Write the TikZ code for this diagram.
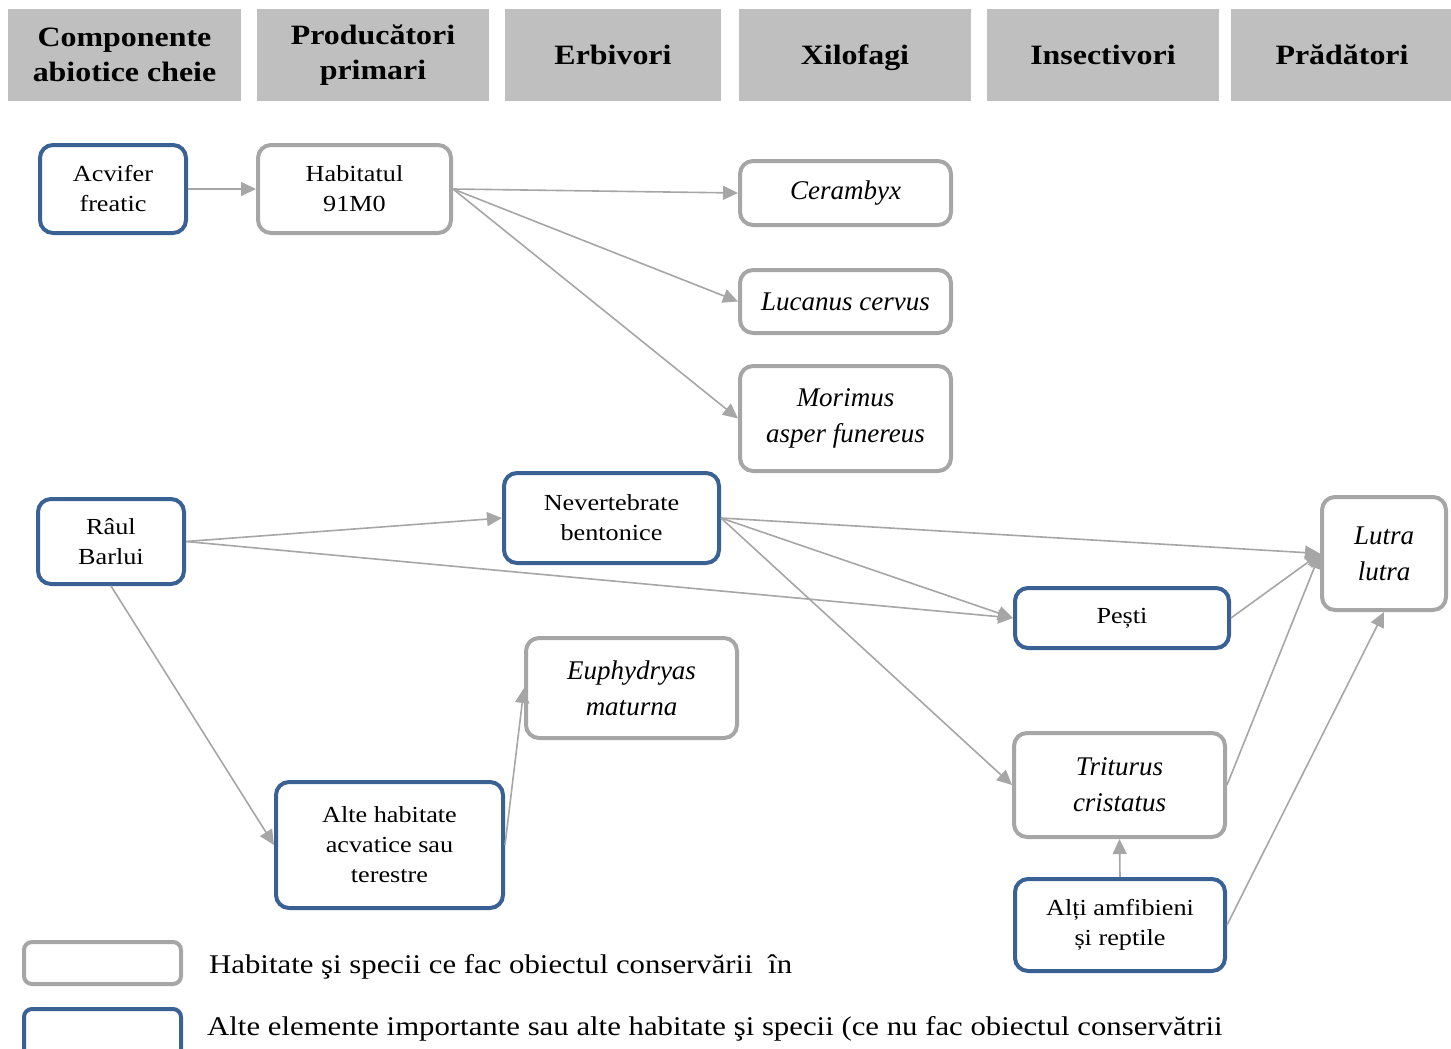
\documentclass[tikz,border=0pt]{standalone}
\usepackage{fontspec}
\setmainfont{Liberation Serif}
\newfontfamily\widefont{Liberation Serif}[FakeStretch=1.14]
\usetikzlibrary{arrows.meta}
\definecolor{boxgray}{HTML}{A6A6A6}
\definecolor{boxblue}{HTML}{3A6194}
\definecolor{hdrfill}{HTML}{BFBFBF}
\definecolor{linkgray}{HTML}{A6A6A6}
\tikzset{
  hdr/.style={fill=hdrfill, draw=none, minimum height=92pt, align=center,
    inner sep=0pt, font=\widefont\fontsize{28}{35}\selectfont\bfseries},
  nbox/.style={rounded corners=13pt, line width=4pt, fill=white, align=center,
    inner sep=0pt, font=\widefont\fontsize{23}{30}\selectfont},
  gbox/.style={nbox, draw=boxgray},
  bbox/.style={nbox, draw=boxblue},
  sp/.style={font=\rmfamily\fontsize{27}{36}\selectfont\itshape},
  link/.style={draw=linkgray, line width=1.6pt,
    -{Triangle[length=15pt,width=14pt]}},
  legtxt/.style={anchor=west, inner sep=0pt, font=\widefont\fontsize{27}{30}\selectfont}
}
\begin{document}
\begin{tikzpicture}[x=1pt,y=-1pt]
\useasboundingbox (0,0) rectangle (1451,1049);
\clip (0,0) rectangle (1451,1049);

% column headers
\node[hdr, minimum width=233pt] (h1) at (124.5,55) {Componente\\abiotice cheie};
\node[hdr, minimum width=232pt] (h2) at (373,55) {Producători\\primari};
\node[hdr, minimum width=216pt] (h3) at (613,55) {Erbivori};
\node[hdr, minimum width=232pt, text depth=0pt] (h4) at (855,55) {Xilofagi};
\node[hdr, minimum width=232pt] (h5) at (1103,55) {Insectivori};
\node[hdr, minimum width=222pt] (h6) at (1342,55) {Prădători};

% habitats and species
\node[bbox, minimum width=146pt, minimum height=88pt] (acvifer) at (113,189) {Acvifer\\freatic};
\node[gbox, minimum width=193pt, minimum height=88pt] (hab) at (354.5,189) {Habitatul\\91M0};
\node[gbox, sp, minimum width=211pt, minimum height=64pt] (ceramb) at (845.5,193) {Cerambyx};
\node[gbox, sp, minimum width=211pt, minimum height=63pt] (lucanus) at (845.5,301.5) {Lucanus cervus};
\node[gbox, sp, minimum width=211pt, minimum height=105pt] (morimus) at (845.5,418.5) {Morimus\\asper funereus};
\node[bbox, minimum width=146pt, minimum height=85pt] (raul) at (111,541.5) {Râul\\Barlui};
\node[bbox, minimum width=215pt, minimum height=90pt] (nevert) at (611.5,518) {Nevertebrate\\bentonice};
\node[gbox, sp, minimum width=124pt, minimum height=113pt] (lutra) at (1384,553.5) {Lutra\\lutra};
\node[bbox, minimum width=214pt, minimum height=60pt] (pesti) at (1122,618) {Pești};
\node[gbox, sp, minimum width=211pt, minimum height=100pt] (euph) at (631.5,688) {Euphydryas\\maturna};
\node[gbox, sp, minimum width=211pt, minimum height=104pt] (trit) at (1119.5,785) {Triturus\\cristatus};
\node[bbox, minimum width=227pt, minimum height=126pt] (alte) at (389.5,845) {Alte habitate\\acvatice sau\\terestre};
\node[bbox, minimum width=210pt, minimum height=92pt] (amfib) at (1120,925) {Alți amfibieni\\și reptile};

% links
\draw[link] (acvifer.east) -- (hab.west);
\draw[link] (hab.east) -- (ceramb.west);
\draw[link] (hab.east) -- (lucanus.west);
\draw[link] (hab.east) -- (morimus.west);
\draw[link] (raul.east) -- (nevert.west);
\draw[link] (raul.east) -- (pesti.west);
\draw[link] (raul.south) -- (alte.west);
\draw[link] (nevert.east) -- (lutra.west);
\draw[link] (nevert.east) -- (pesti.west);
\draw[link] (nevert.east) -- (trit.west);
\draw[link] (pesti.east) -- (lutra.west);
\draw[link] (trit.east) -- (lutra.west);
\draw[link] (amfib.east) -- (lutra.south);
\draw[link] (amfib.north) -- (trit.south);
\draw[link] (alte.east) -- (euph.west);

% legend
\node[gbox, rounded corners=8pt, minimum width=157pt, minimum height=42pt] (leg1) at (102.5,963) {};
\node[bbox, rounded corners=8pt, minimum width=157pt, minimum height=50pt] (leg2) at (102.5,1034) {};
\node[legtxt] (leg1t) at (209,967) {Habitate şi specii ce fac obiectul conservării~ în};
\node[legtxt] (leg2t) at (207,1029) {Alte elemente importante sau alte habitate şi specii (ce nu fac obiectul conservătrii};
\end{tikzpicture}
\end{document}
